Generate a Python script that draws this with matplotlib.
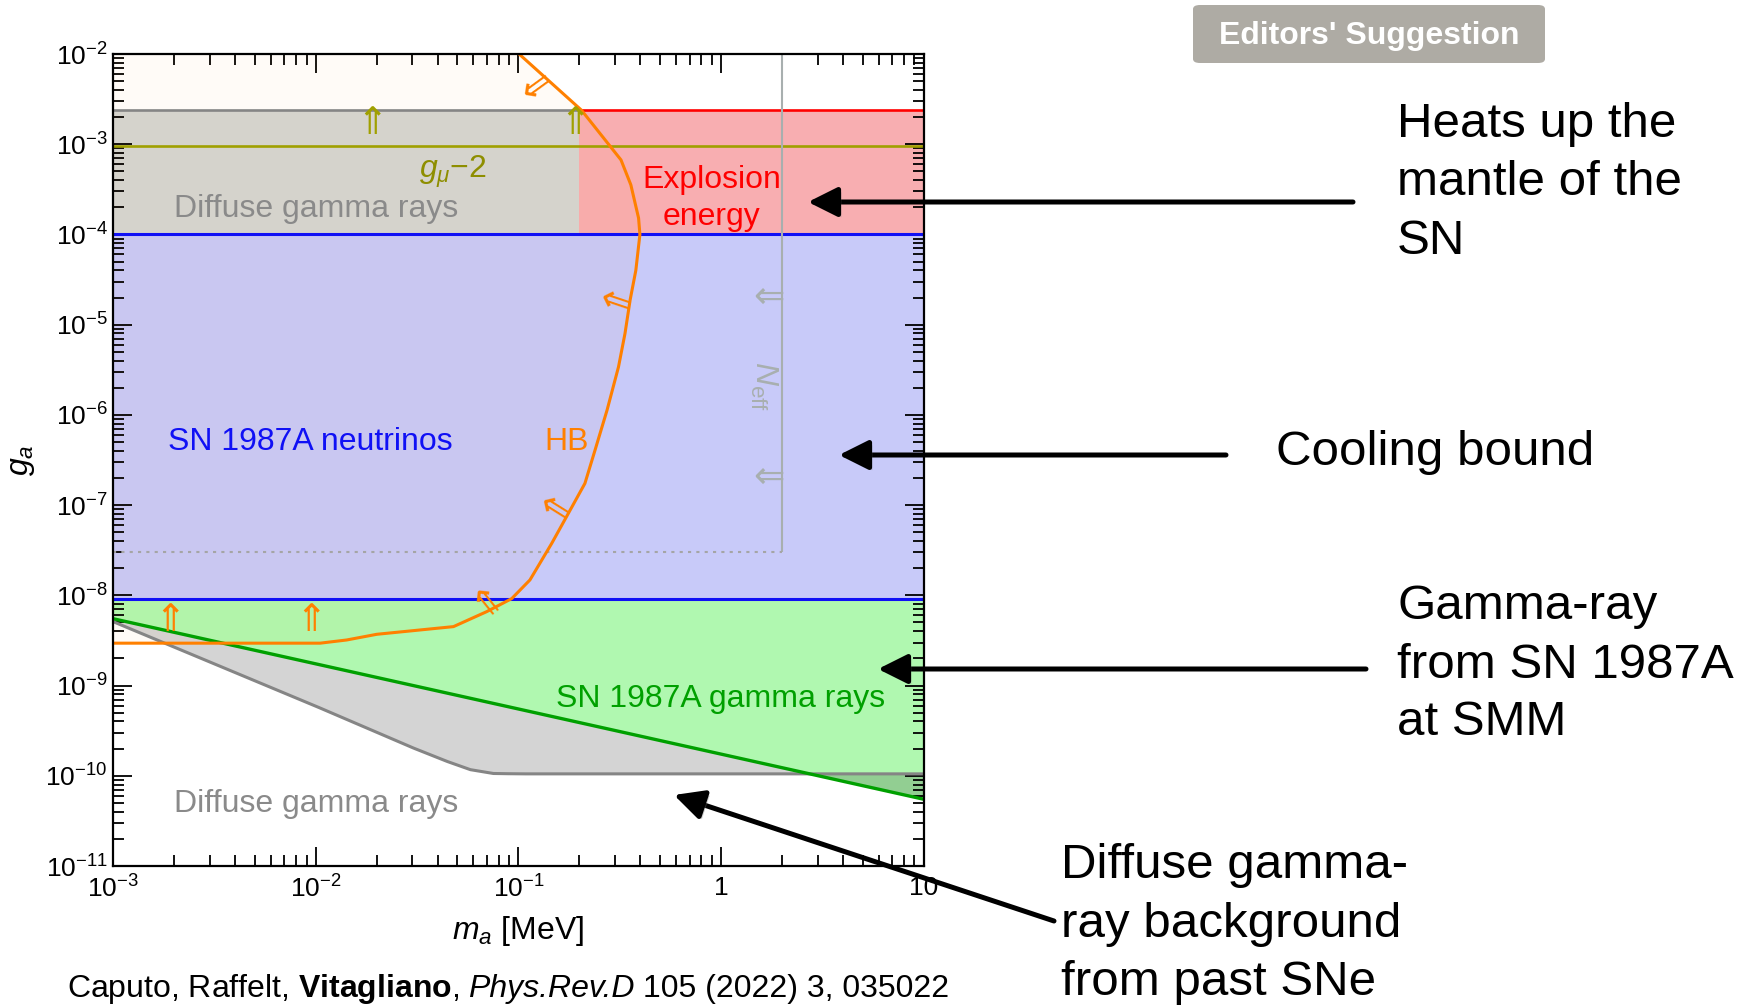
import numpy as np
import matplotlib
matplotlib.use("Agg")
import matplotlib.pyplot as plt
from matplotlib.ticker import LogLocator, NullFormatter
from matplotlib.patches import FancyArrowPatch, FancyBboxPatch
import matplotlib.patheffects as pe

plt.rcParams['font.family'] = ['Liberation Sans', 'DejaVu Sans']
plt.rcParams['mathtext.fontset'] = 'custom'
plt.rcParams['mathtext.rm'] = 'Liberation Sans'
plt.rcParams['mathtext.it'] = 'Liberation Sans:italic'
plt.rcParams['mathtext.bf'] = 'Liberation Sans:bold'

# ---------------- data ----------------
m_lim = [1e-3, 10.0]            # axion mass [MeV]
g_lim = [1e-11, 1e-2]           # coupling g_a

x_ticks = [1e-3, 1e-2, 1e-1, 1.0, 10.0]
x_ticklabels = [r"$10^{-3}$", r"$10^{-2}$", r"$10^{-1}$", "1", "10"]
y_ticks = [1e-11, 1e-10, 1e-9, 1e-8, 1e-7, 1e-6, 1e-5, 1e-4, 1e-3, 1e-2]
y_ticklabels = [r"$10^{-11}$", r"$10^{-10}$", r"$10^{-9}$", r"$10^{-8}$", r"$10^{-7}$",
                r"$10^{-6}$", r"$10^{-5}$", r"$10^{-4}$", r"$10^{-3}$", r"$10^{-2}$"]

# SN 1987A neutrino (cooling) band
nu_low, nu_high = 9e-9, 1e-4
# upper band: diffuse gamma rays (low mass) / explosion energy (high mass)
upper_low, upper_high = 1e-4, 2.4e-3
upper_split = 0.2
# muon g-2
gmu2 = 9.5e-4

# SN 1987A gamma rays (SMM), lower edge
smm_m = [1e-3, 10.0]
smm_g = [5.5e-9, 5.5e-11]

# diffuse gamma-ray background from past SNe, lower edge
dif_m = [1e-3, 9.35e-3, 0.0292, 0.036, 0.0427, 0.0578, 0.0753, 0.1, 10.0]
dif_g = [5.1e-9, 6.3e-10, 2.1e-10, 1.74e-10, 1.49e-10, 1.17e-10, 1.06e-10, 1.05e-10, 1.05e-10]

# horizontal-branch stars
hb_m = [1e-3, 0.0105, 0.0142, 0.020, 0.0478, 0.0698, 0.0927, 0.114, 0.146, 0.184,
        0.213, 0.239, 0.274, 0.312, 0.336, 0.356, 0.380, 0.398, 0.392, 0.359, 0.321,
        0.205, 0.1008]
hb_g = [2.95e-9, 2.95e-9, 3.2e-9, 3.7e-9, 4.5e-9, 6.6e-9, 9.2e-9, 1.48e-8, 3.76e-8, 9.6e-8,
        1.74e-7, 4.07e-7, 1.13e-6, 3.4e-6, 8.0e-6, 1.87e-5, 4.0e-5, 1.0e-4, 1.52e-4, 3.55e-4,
        6.7e-4, 2.38e-3, 1e-2]

# N_eff (BBN) bound
neff_m = 2.0
neff_g = 3e-8

# ---------------- colours ----------------
c_blue_fill = '#C8CAF9'
c_blue = '#1010F5'
c_green_fill = '#B0F8B0'
c_green = '#00A000'
c_red_fill = '#F8AEB1'
c_red = '#FF0000'
c_gray_fill = '#D4D6D3'
c_gray = '#858585'
c_olive = '#A0A000'
c_olive_txt = '#8E8E00'
c_orange = '#FF8000'
c_neff = '#A8AFAF'
c_text_gray = '#8A8A8A'

W, H = 1759, 1006
fig = plt.figure(figsize=(W / 100, H / 100), dpi=100)


def P(x, y):
    """pixel position (from top-left) -> figure fraction"""
    return x / W, 1 - y / H


ax_l, ax_r, ax_t, ax_b = 113.3, 923.5, 54.0, 866.0
ax = fig.add_axes([ax_l / W, 1 - ax_b / H, (ax_r - ax_l) / W, (ax_b - ax_t) / H])
ax.set_xscale('log')
ax.set_yscale('log')
ax.set_xlim(m_lim)
ax.set_ylim(g_lim)

mg = np.logspace(np.log10(m_lim[0]), np.log10(m_lim[1]), 600)
g_smm = 10 ** np.interp(np.log10(mg), np.log10(smm_m), np.log10(smm_g))
g_dif = 10 ** np.interp(np.log10(mg), np.log10(dif_m), np.log10(dif_g))

# filled regions
ax.axhspan(nu_low, nu_high, color=c_blue_fill, lw=0, zorder=1)
ax.fill_between(mg, g_smm, nu_low, color=c_green_fill, lw=0, zorder=1)
ax.fill_between(mg, g_dif, g_smm, color='k', alpha=0.17, lw=0, zorder=2)
ax.fill_between([m_lim[0], upper_split], upper_low, upper_high, color=c_gray_fill, lw=0, zorder=1)
ax.fill_between([upper_split, m_lim[1]], upper_low, upper_high, color=c_red_fill, lw=0, zorder=1)
ax.fill(hb_m + [m_lim[0]], hb_g + [g_lim[1]], color=c_orange, alpha=0.03, lw=0, zorder=2)

# boundary lines
ax.hlines(upper_high, m_lim[0], upper_split, color=c_gray, lw=1.9, zorder=4)
ax.hlines(upper_high, upper_split, m_lim[1], color=c_red, lw=1.9, zorder=4)
ax.hlines(gmu2, m_lim[0], m_lim[1], color=c_olive, lw=1.9, zorder=4)
ax.hlines([nu_high, nu_low], m_lim[0], m_lim[1], color=c_blue, lw=2.2, zorder=4)
ax.plot(mg, g_dif, color=c_gray, lw=2.2, zorder=4, solid_capstyle='butt')
ax.plot(mg, g_smm, color=c_green, lw=2.4, zorder=5)
ax.vlines(neff_m, neff_g, g_lim[1], color=c_neff, lw=1.5, zorder=4)
ax.hlines(neff_g, m_lim[0], neff_m, color='#A5A5A5', lw=1.5, ls=(0, (1.5, 2.5)), zorder=4)
ax.plot(hb_m, hb_g, color=c_orange, lw=2.2, zorder=6)

# direction arrows
arrow_font = dict(family='DejaVu Sans', fontsize=27, ha='center', va='center',
                  rotation_mode='anchor')
for m in (0.019, 0.19):
    ax.text(m, gmu2 * 1.75, '\u21D1', color=c_olive, zorder=7, **arrow_font)
for m in (1.9e-3, 9.5e-3):
    ax.text(m, 2.95e-9 * 1.75, '\u21D1', color=c_orange, zorder=7, **arrow_font)
for (m, g, rot) in [(0.1245, 4.35e-3, 36), (0.30, 1.72e-5, -18.5),
                    (0.149, 8.7e-8, -32), (0.0671, 8.1e-9, -51)]:
    ax.text(m, g, '\u21D0', color=c_orange, rotation=rot, zorder=7, **arrow_font)
for g in (2e-5, 2e-7):
    ax.text(1.72, g, '\u21D0', color=c_neff, zorder=7, **arrow_font)

# region labels
lab = dict(fontsize=23, zorder=8)
ax.text(2.0e-3, 1.9e-4, 'Diffuse gamma rays', color=c_text_gray, ha='left', va='center', **lab)
ax.text(2.0e-3, 4.9e-11, 'Diffuse gamma rays', color=c_text_gray, ha='left', va='center', **lab)
ax.text(0.0475, 5.0e-4, r'$g_\mu$' + '\u22122', color=c_olive_txt, ha='center', va='center', **lab)
ax.text(0.9, 4.05e-4, 'Explosion', color=c_red, ha='center', va='center', **lab)
ax.text(0.9, 1.58e-4, 'energy', color=c_red, ha='center', va='center', **lab)
ax.text(1.87e-3, 5.0e-7, 'SN 1987A neutrinos', color=c_blue, ha='left', va='center', **lab)
ax.text(0.134, 5.0e-7, 'HB', color=c_orange, ha='left', va='center', **lab)
ax.text(6.5, 7.1e-10, 'SN 1987A gamma rays', color=c_green, ha='right', va='center', **lab)
ax.text(1.62, 2.1e-6, r'$N_{\rm eff}$', color=c_neff, ha='center', va='center',
        rotation=-90, fontsize=23, zorder=8)

# axes styling
ax.set_xticks(x_ticks)
ax.set_xticklabels(x_ticklabels)
ax.set_yticks(y_ticks)
ax.set_yticklabels(y_ticklabels)
ax.xaxis.set_minor_locator(LogLocator(base=10, subs=np.arange(2, 10), numticks=50))
ax.yaxis.set_minor_locator(LogLocator(base=10, subs=np.arange(2, 10), numticks=50))
ax.xaxis.set_minor_formatter(NullFormatter())
ax.yaxis.set_minor_formatter(NullFormatter())
ax.tick_params(which='both', direction='in', top=True, right=True, width=1.3, colors='black')
ax.tick_params(which='major', length=14, labelsize=19)
ax.tick_params(which='minor', length=8)
ax.tick_params(axis='x', which='major', pad=7)
ax.tick_params(axis='y', which='major', pad=4)
for s in ax.spines.values():
    s.set_linewidth(1.6)
    s.set_zorder(10)

fig.text(*P(518, 931), r'$m_a$ [MeV]', fontsize=23, ha='center', va='center')
fig.text(*P(22, 460), r'$g_a$', fontsize=23, ha='center', va='center', rotation=90)

# citation, assembled from pieces in different font styles
renderer = fig.canvas.get_renderer()
cite = [(r'Caputo, Raffelt, $\mathbf{Vitagliano}$,', {}),
        ('Phys.Rev.D', {'fontstyle': 'italic'}),
        ('105 (2022) 3, 035022', {})]
probe = fig.text(0, 0, 'a a', fontsize=23)
probe2 = fig.text(0, 0, 'aa', fontsize=23)
space_w = probe.get_window_extent(renderer).width - probe2.get_window_extent(renderer).width
probe.remove()
probe2.remove()
xc = 67.0
for i, (s, kw) in enumerate(cite):
    if i > 0:
        xc += space_w
    t = fig.text(*P(xc, 989), s, fontsize=23, ha='left', va='center', **kw)
    xc += t.get_window_extent(renderer).width

# badge
badge = FancyBboxPatch(P(1193, 63), 352 / W, 58 / H, transform=fig.transFigure,
                       boxstyle='round,pad=0,rounding_size=0.004', fc='#AEABA4', ec='none')
fig.patches.append(badge)
fig.text(*P(1369, 36), "Editors' Suggestion", color='white', fontsize=23,
         fontweight='bold', ha='center', va='center')

# explanatory notes with arrows
notes = [
    (1397, [137, 195, 253.5], ['Heats up the', 'mantle of the', 'SN']),
    (1275.5, [465.5], ['Cooling bound']),
    (1397, [619, 677.5, 735], ['Gamma-ray', 'from SN 1987A', 'at SMM']),
    (1061, [878, 937, 995], ['Diffuse gamma-', 'ray background', 'from past SNe']),
]
for x, ys, lines in notes:
    for y, s in zip(ys, lines):
        fig.text(*P(x, y), s, fontsize=35.5, ha='left', va='baseline')

arrows = [((1353, 202), (808, 202)),
          ((1226, 455), (839, 455)),
          ((1366, 669), (878, 669)),
          ((1054, 921), (674, 795))]
shadow = [pe.SimplePatchShadow(offset=(2, -2), shadow_rgbFace='#777777', alpha=0.35), pe.Normal()]
for (x0, y0), (x1, y1) in arrows:
    arr = FancyArrowPatch(P(x0, y0), P(x1, y1), transform=fig.transFigure,
                          arrowstyle='-|>,head_length=0.6,head_width=0.3',
                          mutation_scale=30, lw=3.6, color='black',
                          shrinkA=0, shrinkB=0, zorder=20)
    arr.set_path_effects(shadow)
    fig.patches.append(arr)

fig.savefig('out.png', dpi=100)
